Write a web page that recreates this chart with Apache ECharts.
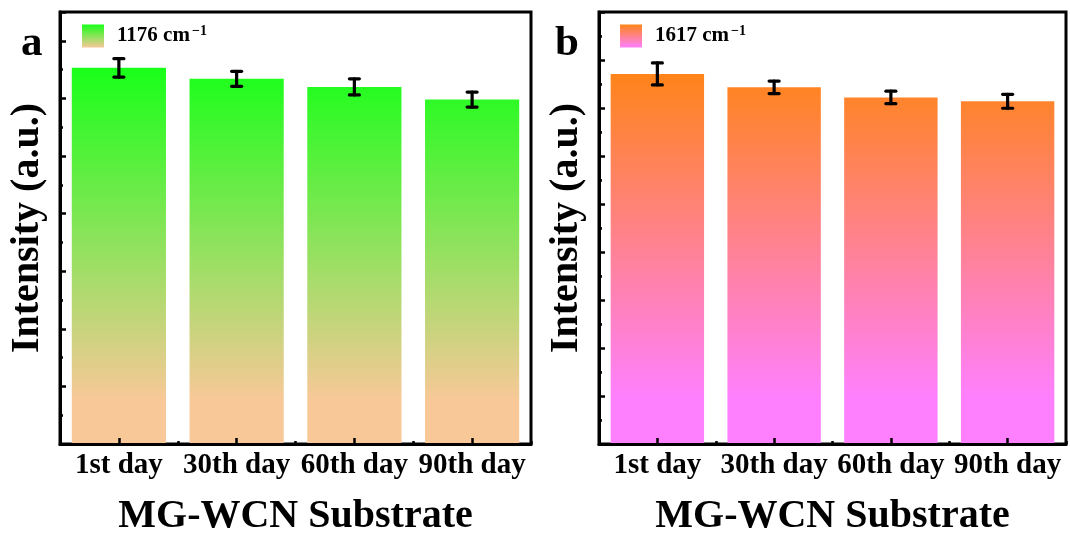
<!DOCTYPE html>
<html>
<head>
<meta charset="utf-8">
<script src="https://cdn.jsdelivr.net/npm/echarts@6/dist/echarts.min.js"></script>
<style>html,body{margin:0;padding:0;background:#fff;}#c{width:1070px;height:535px;}</style>
</head>
<body>
<div id="c"></div>
<script>
var categories = ['1st day', '30th day', '60th day', '90th day'];
var valuesA = [6.53, 6.34, 6.20, 5.98];
var errorsA = [0.16, 0.13, 0.14, 0.13];
var valuesB = [7.71, 7.43, 7.22, 7.14];
var errorsB = [0.23, 0.13, 0.13, 0.145];
var nameA = '1176 cm-1';
var nameB = '1617 cm-1';

var FONT = "'Liberation Serif','Times New Roman',serif";
var chart = echarts.init(document.getElementById('c'), null, {renderer: 'canvas'});

function grad(c1, c2, y1, y2, global) {
  return {type: 'linear', x: 0, y: y1, x2: 0, y2: y2, global: !!global,
    colorStops: [{offset: 0, color: c1}, {offset: 1, color: c2}]};
}
var gradA = grad('#1aff1a', '#f8c898', 70, 400, true);
var gradB = grad('#ff8418', '#ff80ff', 72, 400, true);
var legA = grad('#1aff1a', '#f8c898', 0, 1);
var legB = grad('#ff8418', '#ff80ff', 0, 1);

function errRender(vals, errs) {
  return function (params, api) {
    var i = api.value(0);
    var hi = api.coord([i, vals[i] + errs[i]]);
    var lo = api.coord([i, vals[i] - errs[i]]);
    var w = 5;
    var st = {stroke: '#000', lineWidth: 3.2, lineCap: 'round'};
    return {type: 'group', children: [
      {type: 'line', shape: {x1: hi[0], y1: hi[1], x2: lo[0], y2: lo[1]}, style: st},
      {type: 'line', shape: {x1: hi[0] - w, y1: hi[1], x2: hi[0] + w, y2: hi[1]}, style: st},
      {type: 'line', shape: {x1: lo[0] - w, y1: lo[1], x2: lo[0] + w, y2: lo[1]}, style: st}
    ]};
  };
}

var grids = [
  {left: 60, right: 539, top: 12, bottom: 91, show: true, borderColor: '#000', borderWidth: 3,
   backgroundColor: 'transparent', containLabel: false, outerBoundsMode: 'none'},
  {left: 599, right: 4, top: 12, bottom: 91, show: true, borderColor: '#000', borderWidth: 3,
   backgroundColor: 'transparent', containLabel: false, outerBoundsMode: 'none'}
];

function xMain(g) {
  return {type: 'category', gridIndex: g, data: categories, position: 'bottom', z: 10,
    name: 'MG-WCN Substrate', nameLocation: 'middle', nameGap: 53,
    nameTextStyle: {fontFamily: FONT, fontWeight: 'bold', fontSize: 40, color: '#000'},
    axisLine: {show: true, lineStyle: {color: '#000', width: 3}},
    axisTick: {show: true, inside: true, alignWithLabel: true, length: 6, lineStyle: {color: '#000', width: 2.5}},
    axisLabel: {fontFamily: FONT, fontWeight: 'bold', fontSize: 29, color: '#000', margin: 7, interval: 0},
    splitLine: {show: false}};
}
function xMinor(g) {
  return {type: 'category', gridIndex: g, data: categories, position: 'bottom', z: 10, offset: 0,
    axisLine: {show: false}, axisLabel: {show: false},
    axisTick: {show: true, inside: true, alignWithLabel: false, length: 3, lineStyle: {color: '#000', width: 2.5}},
    splitLine: {show: false}};
}
function yAxis(g, max) {
  return {type: 'value', gridIndex: g, min: 0, max: max, interval: 1, z: 10,
    name: 'Intensity (a.u.)', nameLocation: 'middle', nameGap: 12,
    nameTextStyle: {fontFamily: FONT, fontWeight: 'bold', fontSize: 40, color: '#000'},
    axisLine: {show: true, lineStyle: {color: '#000', width: 3}},
    axisTick: {show: true, inside: true, length: 6, lineStyle: {color: '#000', width: 2.5}},
    minorTick: {show: true, splitNumber: 2, length: 3, lineStyle: {color: '#000', width: 2.5}},
    axisLabel: {show: false}, splitLine: {show: false}};
}

var legendText = {fontFamily: FONT, fontWeight: 'bold', color: '#000',
  rich: {b: {fontFamily: FONT, fontWeight: 'bold', fontSize: 21, color: '#000', padding: [0, 0, 0, 8], lineHeight: 24},
         s: {fontFamily: FONT, fontWeight: 'bold', fontSize: 14, color: '#000', verticalAlign: 'top', lineHeight: 14, padding: [0, 0, 0, 2]}}};
function legFmt(n) { var p = n.split(' cm-'); return '{b|' + p[0] + ' cm}{s|\u2212' + p[1] + '}'; }

chart.setOption({
  animation: false,
  backgroundColor: '#fff',
  title: [
    {text: 'a', left: 21, top: 22, padding: 0, textStyle: {fontFamily: FONT, fontWeight: 'bold', fontSize: 43, color: '#000'}},
    {text: 'b', left: 555, top: 22, padding: 0, textStyle: {fontFamily: FONT, fontWeight: 'bold', fontSize: 43, color: '#000'}}
  ],
  legend: [
    {left: 82, top: 24, padding: 0, itemWidth: 22, itemHeight: 23, icon: 'rect', formatter: legFmt, textStyle: legendText,
     data: [{name: nameA, itemStyle: {color: legA}}]},
    {left: 620, top: 24, padding: 0, itemWidth: 22, itemHeight: 23, icon: 'rect', formatter: legFmt, textStyle: legendText,
     data: [{name: nameB, itemStyle: {color: legB}}]}
  ],
  grid: grids,
  xAxis: [xMain(0), xMinor(0), xMain(1), xMinor(1)],
  yAxis: [yAxis(0, 7.5), yAxis(1, 9)],
  series: [
    {type: 'bar', name: nameA, xAxisIndex: 0, yAxisIndex: 0, data: valuesA, barWidth: '80%', itemStyle: {color: gradA}, z: 2},
    {type: 'custom', name: 'errA', xAxisIndex: 0, yAxisIndex: 0, data: categories.map(function (c, i) { return [i]; }),
     renderItem: errRender(valuesA, errorsA), z: 5},
    {type: 'bar', name: nameB, xAxisIndex: 2, yAxisIndex: 1, data: valuesB, barWidth: '80%', itemStyle: {color: gradB}, z: 2},
    {type: 'custom', name: 'errB', xAxisIndex: 2, yAxisIndex: 1, data: categories.map(function (c, i) { return [i]; }),
     renderItem: errRender(valuesB, errorsB), z: 5}
  ]
});
</script>
</body>
</html>
